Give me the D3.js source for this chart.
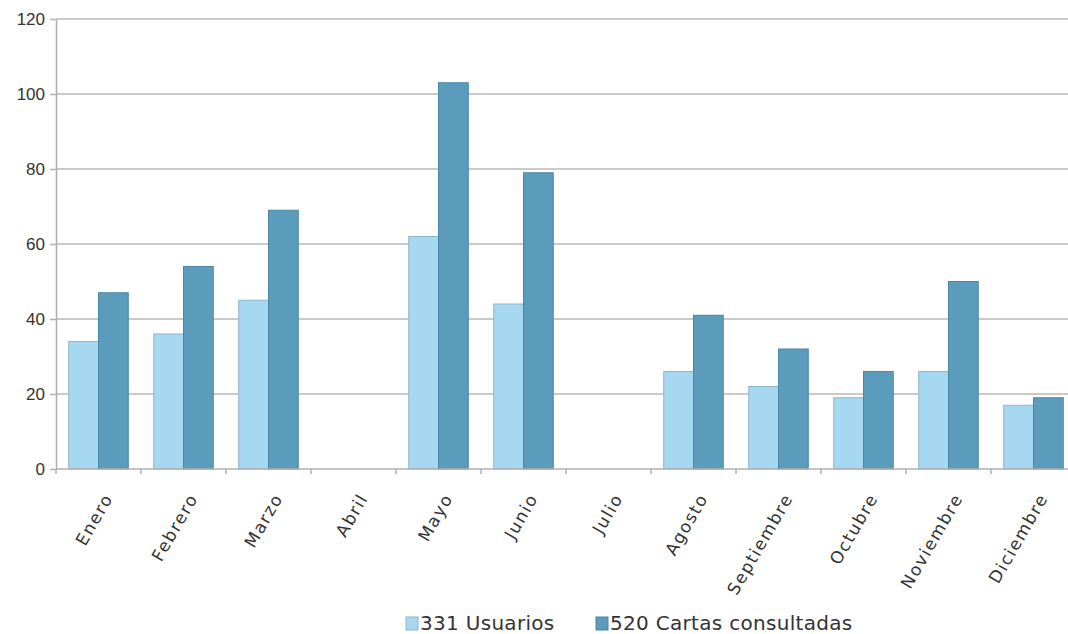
<html>
<head>
  <meta charset="utf-8">
  <title>Usuarios y cartas consultadas</title>
  <style>
    html, body { margin: 0; padding: 0; background: #fff; }
    svg { display: block; font-family: "DejaVu Sans", Verdana, sans-serif; }
    .grid line { stroke: #b8b8b8; stroke-width: 1.5px; }
    .axis path, .axis line { stroke: #b0b0b0; stroke-width: 1.5px; }
    .axis text { fill: #333; font-size: 17px; }
  </style>
  <script src="https://d3js.org/d3.v7.min.js"></script>
</head>
<body>
<script>
  var meses = ["Enero", "Febrero", "Marzo", "Abril", "Mayo", "Junio", "Julio",
    "Agosto", "Septiembre", "Octubre", "Noviembre", "Diciembre"];
  var usuarios = [34, 36, 45, 0, 62, 44, 0, 26, 22, 19, 26, 17];
  var cartas = [47, 54, 69, 0, 103, 79, 0, 41, 32, 26, 50, 19];
  var seriesNames = ["331 Usuarios", "520 Cartas consultadas"];
  var seriesColors = ["#a6d8f2", "#5b9cbd"];
  var yTicks = [0, 20, 40, 60, 80, 100, 120];

  var width = 1068, height = 634;
  var marginLeft = 56, plotTop = 19, plotBottom = 469;

  var svg = d3.select("body").append("svg")
    .attr("width", width)
    .attr("height", height);

  var x = d3.scaleBand()
    .domain(meses)
    .range([marginLeft, marginLeft + 12 * 85])
    .paddingInner(0.3)
    .paddingOuter(0.15);

  var xSub = d3.scaleBand()
    .domain([0, 1])
    .range([0, x.bandwidth()]);

  var y = d3.scaleLinear()
    .domain([0, 120])
    .range([plotBottom, plotTop]);

  // lineas horizontales
  svg.append("g")
    .attr("class", "grid")
    .selectAll("line")
    .data(yTicks.slice(1))
    .enter()
    .append("line")
    .attr("x1", marginLeft)
    .attr("x2", width)
    .attr("y1", d => y(d))
    .attr("y2", d => y(d));

  // barras
  var data = meses.map((m, i) => ({ mes: m, vals: [usuarios[i], cartas[i]] }));
  var groups = svg.append("g")
    .selectAll("g")
    .data(data)
    .enter()
    .append("g")
    .attr("transform", d => "translate(" + x(d.mes) + ",0)");

  groups.selectAll("rect")
    .data(d => d.vals.map((v, k) => ({ v: v, k: k })).filter(e => e.v > 0))
    .enter()
    .append("rect")
    .attr("x", d => xSub(d.k))
    .attr("y", d => y(d.v))
    .attr("width", xSub.bandwidth())
    .attr("height", d => plotBottom - y(d.v))
    .attr("fill", d => seriesColors[d.k])
    .attr("stroke", d => d.k == 0 ? "#8fb5c8" : "#4a86a6")
    .attr("stroke-width", 1);

  // eje Y
  svg.append("g")
    .attr("class", "axis")
    .attr("transform", "translate(" + marginLeft + ",0)")
    .call(d3.axisLeft(y).tickValues(yTicks).tickSize(6).tickPadding(5).tickSizeOuter(0))
    .call(g => g.selectAll("text").attr("dy", "0.35em"));

  // eje X
  var step = 85;
  var xAxis = svg.append("g").attr("class", "axis");
  xAxis.append("line")
    .attr("x1", marginLeft).attr("x2", width)
    .attr("y1", plotBottom).attr("y2", plotBottom);
  xAxis.selectAll(".tk")
    .data(d3.range(13))
    .enter()
    .append("line")
    .attr("class", "tk")
    .attr("x1", i => marginLeft + i * step)
    .attr("x2", i => marginLeft + i * step)
    .attr("y1", plotBottom)
    .attr("y2", plotBottom + 5);

  xAxis.selectAll("text")
    .data(meses)
    .enter()
    .append("text")
    .attr("text-anchor", "end")
    .attr("font-size", 21)
    .attr("letter-spacing", "1.5px")
    .attr("transform", d => "translate(" + (x(d) + x.bandwidth() / 2 + 15) + "," + (plotBottom + 29) + ") rotate(-60)")
    .text(d => d);

  // leyenda
  var legend = svg.append("g")
    .attr("transform", "translate(406,617)");
  var lx = [0, 190];
  seriesNames.forEach(function (name, i) {
    legend.append("rect")
      .attr("x", lx[i])
      .attr("y", 0)
      .attr("width", 12)
      .attr("height", 13)
      .attr("fill", seriesColors[i])
      .attr("stroke", i == 0 ? "#8fb5c8" : "#4a86a6");
    legend.append("text")
      .attr("x", lx[i] + 14)
      .attr("y", 13)
      .attr("font-size", 20)
      .attr("letter-spacing", "0.3px")
      .attr("fill", "#333")
      .text(name);
  });
</script>
</body>
</html>
